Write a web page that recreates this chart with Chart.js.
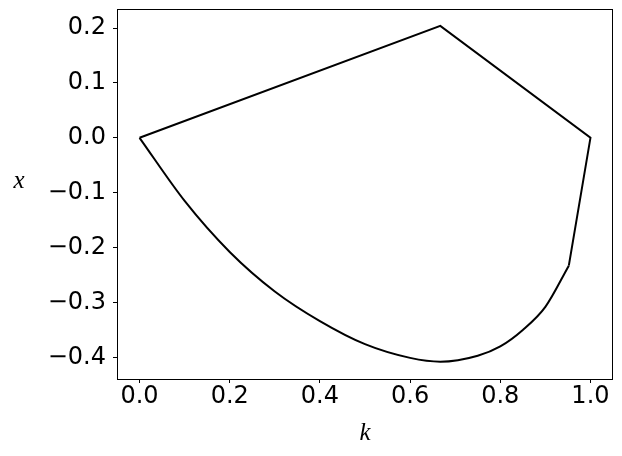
<!DOCTYPE html>
<html>
<head>
<meta charset="utf-8">
<script src="https://cdn.jsdelivr.net/npm/chart.js@4.4.0/dist/chart.umd.min.js"></script>
<style>
  html, body { margin: 0; padding: 0; background: #fff; }
  #wrap { width: 622px; height: 456px; }
</style>
</head>
<body>
<div id="wrap"><canvas id="regionChart"></canvas></div>
<script>
// straight edges of the region: (0,0) -> peak -> (1,0) -> lower corner
const edgeK = [0.0, 0.667, 1.0, 0.952];
const edgeX = [0.0, 0.204, 0.0, -0.233];

// curved lower boundary
const curveK = [0.0, 0.1, 0.2, 0.3, 0.4, 0.5, 0.6, 0.667, 0.75, 0.8, 0.85, 0.9, 0.952];
const curveX = [0.0, -0.115, -0.208, -0.280, -0.334, -0.376, -0.401, -0.408, -0.397, -0.380, -0.350, -0.308, -0.233];

const xTicks = [0.0, 0.2, 0.4, 0.6, 0.8, 1.0];
const yTicks = [-0.4, -0.3, -0.2, -0.1, 0.0, 0.1, 0.2];

const toPoints = (ks, xs) => ks.map((k, i) => ({ x: k, y: xs[i] }));

// frame around the plot + horizontal y label
const framePlugin = {
    id: 'frame',
    afterDraw(chart) {
        const { ctx, chartArea: a } = chart;
        ctx.save();
        ctx.strokeStyle = '#000';
        ctx.lineWidth = 1;
        ctx.strokeRect(Math.round(a.left) + 0.5, Math.round(a.top) + 0.5,
            Math.round(a.right - a.left) - 1, Math.round(a.bottom - a.top));
        ctx.fillStyle = '#000';
        ctx.font = 'italic 25px "Liberation Serif"';
        ctx.textAlign = 'center';
        ctx.textBaseline = 'middle';
        ctx.fillText('x', 19, 181);
        ctx.restore();
    }
};

const tickFont = { family: '"DejaVu Sans"', size: 24 };

new Chart(document.getElementById('regionChart'), {
    type: 'line',
    data: {
        datasets: [
            {
                data: toPoints(edgeK, edgeX),
                borderColor: '#000',
                borderWidth: 2,
                pointRadius: 0,
                tension: 0
            },
            {
                data: toPoints(curveK, curveX),
                borderColor: '#000',
                borderWidth: 2,
                pointRadius: 0,
                cubicInterpolationMode: 'monotone'
            }
        ]
    },
    options: {
        responsive: true,
        maintainAspectRatio: false,
        animation: false,
        layout: { padding: { left: 0, right: 9, top: 9, bottom: 0 } },
        plugins: { legend: { display: false }, tooltip: { enabled: false } },
        scales: {
            x: {
                type: 'linear',
                min: -0.05,
                max: 1.05,
                afterFit: s => { s.height = 77; s.paddingLeft = 0; s.paddingRight = 0; },
                afterBuildTicks: s => { s.ticks = xTicks.map(v => ({ value: v })); },
                grid: { drawOnChartArea: false, drawTicks: true, tickLength: 4, color: '#000', tickWidth: 1 },
                border: { display: false },
                ticks: {
                    color: '#000',
                    font: tickFont,
                    padding: -1,
                    maxRotation: 0,
                    callback: v => v.toFixed(1)
                },
                title: {
                    display: true,
                    text: 'k',
                    color: '#000',
                    font: { family: '"Liberation Serif"', size: 25, style: 'italic' },
                    padding: { top: 0, bottom: 8 }
                }
            },
            y: {
                type: 'linear',
                min: -0.4395,
                max: 0.2347,
                afterFit: s => { s.width = 117; s.paddingTop = 0; s.paddingBottom = 0; },
                afterBuildTicks: s => { s.ticks = yTicks.map(v => ({ value: v })); },
                grid: { drawOnChartArea: false, drawTicks: true, tickLength: 4, color: '#000', tickWidth: 1 },
                border: { display: false },
                ticks: {
                    color: '#000',
                    font: tickFont,
                    padding: 7,
                    callback: v => (v < 0 ? '\u2212' : '') + Math.abs(v).toFixed(1)
                }
            }
        }
    },
    plugins: [framePlugin]
});
</script>
</body>
</html>
